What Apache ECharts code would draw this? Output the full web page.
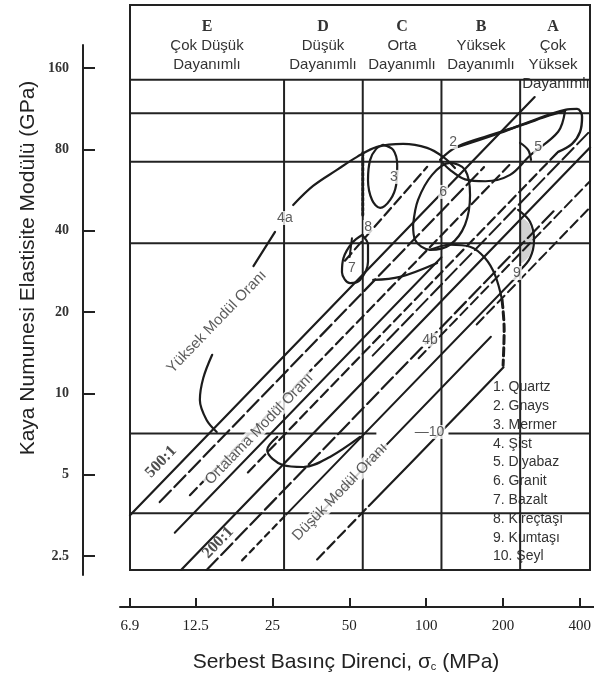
<!DOCTYPE html>
<html><head><meta charset="utf-8">
<script src="https://cdn.jsdelivr.net/npm/echarts@6/dist/echarts.min.js"></script>
<style>html,body{margin:0;padding:0;background:#fff}#c{width:594px;height:682px}</style>
</head><body><div id="c"></div>
<script>
// ---- data (σc in MPa, E in GPa) ----
const strengthBounds = [27.5, 55, 110, 220];
const modulusGrid = [3.6, 36, 72, 109, 145];
const modulusGridSplit = [[7.08, 62, 7.1], [117, 407, 7.1]];
const modulusTicks = [2.5, 5, 10, 20, 40, 80, 160];
const strengthTicks = [6.9, 12.5, 25, 50, 100, 200, 400];
const classLetters = ['E', 'D', 'C', 'B', 'A'];
const classNames = [['Çok Düşük', 'Dayanımlı'], ['Düşük', 'Dayanımlı'], ['Orta', 'Dayanımlı'], ['Yüksek', 'Dayanımlı'], ['Çok', 'Yüksek', 'Dayanımlı']];
const rockNames = ['1. Quartz', '2. Gnays', '3. Mermer', '4. Şist', '5. Diyabaz', '6. Granit', '7. Bazalt', '8. Kireçtaşı', '9. Kumtaşı', '10. Şeyl'];

// modulus-ratio lines and rock envelopes
const ratio500 = [[7.08, 3.54], [250, 125]];
const ratio430 = [[9.2, 3.96], [160, 68.8]];
const ratio350 = [[12, 4.2], [200, 70]];
const ratio290 = [[10.5, 3.05], [110, 31.9]];
const ratio255 = [[20, 5.1], [307.4, 78.4]];
const ratio230 = [[60, 13.8], [407, 93.6]];
const ratio200 = [[11.1, 2.22], [407, 81.4]];
const ratio160 = [[13.9, 2.22], [300, 48]];
const ratio150 = [[90, 13.5], [407, 61]];
const ratio127a = [[19, 2.41], [28, 3.56]];
const ratio127b = [[28, 3.56], [220, 27.9]];
const ratio120 = [[150, 18], [407, 48.8]];
const ratio95 = [[35, 3.33], [170, 16.2]];
const shale10a = [[36.8, 2.43], [58, 3.83]];
const shale10b = [[58, 3.83], [108, 7.1], [190, 12.5]];
const limestone8 = [[47, 31], [97, 69]];
const limestone8b = [[50, 37.5], [49, 32]];
const limestone8v = [[55, 77.7], [55, 45.8]];
const marble3 = [[65.8, 83.2], [71.9, 79.7], [74.5, 70.1], [73.8, 59.1], [70.0, 52.0], [64.1, 48.6], [59.7, 52.0], [57.6, 61.7], [58.7, 73.2], [61.9, 80.4], [65.8, 83.2]];
const basalt7 = [[54.7, 38.6], [57.6, 35.5], [57.6, 30.7], [53.7, 26.3], [49.2, 25.6], [45.8, 28.1], [46.4, 31.7], [50.1, 36.1], [54.7, 38.6]];
const basalt7tail = [[60.3, 26.3], [76.4, 27.0], [105.9, 30.4]];
const schist4aHook = [[15.2, 7.2], [13.9, 7.97], [13.1, 9.45], [13.5, 11.4], [14.6, 13.9]];
const schist4aMid = [[21.0, 29.6], [25.4, 39.6]];
const schist4aArc = [[29.8, 49.8], [35.5, 58.6], [43.8, 67.2], [52.3, 75.1], [62.4, 81.8], [78.5, 83.9], [96.9, 81.1], [111.6, 75.1], [123.9, 68.3]];
const schist4bArc = [[99.5, 34.0], [118.6, 35.5], [141.5, 34.9], [161.4, 31.7], [176.4, 27.4], [187.6, 22.2]];
const schist4bTail = [[187.6, 22.2], [191.1, 17.2], [189.3, 12.7]];
const sandstone9 = [[216, 47.8], [240, 43.2], [248.6, 37.0], [240, 31.7], [219.8, 28.6]];
const sandstoneShade = [[221, 44.5], [238, 42.5], [246, 37.0], [238, 32.2], [221, 30.5]];
const granite6 = [[85.7, 42.1], [89.5, 52.0], [101.3, 64.4], [118.6, 71.3], [135.4, 67.2], [141.5, 54.2], [135.4, 42.1], [118.6, 35.5], [99.5, 34.0], [87.2, 37.0], [85.7, 42.1]];
const gneiss2 = [[108.7, 73.2], [123.9, 81.1], [154.5, 88.0], [219.8, 98.0], [286.3, 107], [326.7, 111], [307.4, 93], [240, 76], [201.3, 64.4], [162, 61.0], [135.4, 62.0], [118.6, 67.2], [108.7, 73.2]];
const quartz1 = [[123.9, 81.1], [184.3, 92.1], [262.1, 104.8], [326.7, 112], [363.3, 113], [379.5, 105.7], [372.8, 92.9], [347.5, 83.9], [307.4, 78.4]];
const diabase5 = [[219.8, 84.6], [235.9, 79.7], [242.1, 73.2]];
const smallArc = [[25.9, 6.9], [23.7, 6.17], [27.2, 5.43], [32.6, 5.34], [41.2, 5.82], [53.7, 6.9]];

const rockLabels = [['4a', 27.7, 44.6], ['8', 57.7, 41.3], ['3', 72.3, 63.3], ['2', 121.8, 85.2], ['5', 257.8, 81.8], ['6', 111.6, 55.7], ['7', 50, 29.1], ['9', 214, 27.9], ['4b', 99.5, 15.8], ['—10', 99, 7.2]];
const zoneLabels = [['Yüksek Modül Oranı', 15.2, 18.4], ['Ortalama Modül Oranı', 22.1, 7.38], ['Düşük Modül Oranı', 45.0, 4.32]];
const ratioLabels = [['500:1', 9.31, 5.58], ['200:1', 15.4, 2.80]];

// ---- styles ----
const INK = '#1c1c1c';
const SOLID = 'solid', DASH = [10, 5], LDASH = [16, 5], SDASH = [6, 5];
const strokes = [
  [ratio500, SOLID, 2.2], [ratio430, LDASH, 2.2], [ratio350, DASH, 2.2], [ratio290, SOLID, 2],
  [ratio255, DASH, 2.2], [ratio230, LDASH, 2], [ratio200, SOLID, 2.2], [ratio160, LDASH, 2.2],
  [ratio150, DASH, 2], [ratio127a, SDASH, 2.2], [ratio127b, SOLID, 2], [ratio120, DASH, 2],
  [ratio95, SOLID, 2], [shale10a, DASH, 2.2], [shale10b, SOLID, 2.2],
  [limestone8, DASH, 2.2], [limestone8b, SOLID, 2], [limestone8v, [3, 2], 3],
  [marble3, SOLID, 2.2], [basalt7, SOLID, 2.2], [basalt7tail, SOLID, 2.2],
  [schist4aHook, SOLID, 2.2], [schist4aMid, SOLID, 2.2], [schist4aArc, SOLID, 2.2],
  [schist4bArc, SOLID, 2.2], [schist4bTail, [8, 4], 3],
  [sandstone9, SOLID, 2.2], [granite6, SOLID, 2.2], [gneiss2, SOLID, 2.2], [quartz1, SOLID, 2.4],
  [diabase5, SOLID, 2.2], [smallArc, SOLID, 2.2]
];

const series = [];
strengthBounds.forEach(s => series.push({ type: 'line', data: [[s, 2.22], [s, 145]], lineStyle: { color: '#222', width: 2 } }));
modulusGrid.forEach(m => series.push({ type: 'line', data: [[7.08, m], [407, m]], lineStyle: { color: '#222', width: 2 } }));
modulusGridSplit.forEach(([a, b, m]) => series.push({ type: 'line', data: [[a, m], [b, m]], lineStyle: { color: '#222', width: 2 } }));
strokes.forEach(([pts, type, w]) => series.push({ type: 'line', data: pts, smooth: pts.length > 2 ? 0.35 : false, lineStyle: { color: INK, width: w, type: type, cap: 'round' } }));
series.forEach(s => { s.showSymbol = false; s.symbol = 'none'; s.silent = true; s.xAxisIndex = 0; s.yAxisIndex = 0; s.z = 3; });

series.push({
  type: 'custom', xAxisIndex: 0, yAxisIndex: 0, silent: true, z: 2,
  data: [0],
  renderItem: (params, api) => ({
    type: 'polygon',
    shape: { points: sandstoneShade.map(p => api.coord(p)), smooth: 0.3 },
    style: { fill: '#c4c4c4', opacity: 0.75 }
  })
});
series.push({
  type: 'scatter', xAxisIndex: 0, yAxisIndex: 0, symbolSize: 0, silent: true, z: 5,
  data: rockLabels.map(r => ({ name: r[0], value: [r[1], r[2]] })),
  label: { show: true, position: 'inside', formatter: '{b}', fontFamily: 'Liberation Sans', fontSize: 14, color: '#333', backgroundColor: '#fff', padding: [0, 1] }
});
series.push({
  type: 'scatter', xAxisIndex: 0, yAxisIndex: 0, symbolSize: 0, silent: true, z: 5,
  data: zoneLabels.map(r => ({ name: r[0], value: [r[1], r[2]] })),
  label: { show: true, position: 'inside', rotate: 46, formatter: '{b}', fontFamily: 'Liberation Sans', fontSize: 15, color: '#333', backgroundColor: '#fff', padding: [0, 2] }
});
series.push({
  type: 'scatter', xAxisIndex: 0, yAxisIndex: 0, symbolSize: 0, silent: true, z: 5,
  data: ratioLabels.map(r => ({ name: r[0], value: [r[1], r[2]] })),
  label: { show: true, position: 'inside', rotate: 46, formatter: '{b}', fontFamily: 'Liberation Serif', fontWeight: 'bold', fontSize: 16, color: '#222' }
});

// header / legend / titles
const colCenters = [207, 323, 402, 481, 553];
const graphic = [];
classLetters.forEach((l, i) => {
  graphic.push({ type: 'text', x: colCenters[i], y: 27, style: { text: l, font: 'bold 16px "Liberation Serif"', fill: '#333', align: 'center', verticalAlign: 'middle' } });
  classNames[i].forEach((t, j) => {
    graphic.push({ type: 'text', x: colCenters[i] + (j === 2 ? 3 : 0), y: 46 + j * 19, style: { text: t, font: '15px "Liberation Sans"', fill: '#333', align: 'center', verticalAlign: 'middle' } });
  });
});
graphic.push({ type: 'text', left: 493, top: 378, style: { text: rockNames.join('\n'), font: '14px "Liberation Sans"', lineHeight: 18.8, fill: '#333' } });
graphic.push({ type: 'text', x: 346, y: 662, style: { text: '{t|Serbest Basınç Direnci, σ}{c|c}{t| (MPa)}', align: 'center', verticalAlign: 'middle', rich: { t: { fontFamily: 'Liberation Sans', fontSize: 21, fill: '#222' }, c: { fontFamily: 'Liberation Sans', fontSize: 11, fill: '#222', padding: [9, 0, 0, 0] } } } });
graphic.push({ type: 'text', x: 28, y: 268, rotation: Math.PI / 2, style: { text: 'Kaya Numunesi Elastisite Modülü (GPa)', font: '21px "Liberation Sans"', fill: '#222', align: 'center', verticalAlign: 'middle' } });

const option = {
  animation: false,
  backgroundColor: '#fff',
  grid: [
    { left: 130, top: 5, width: 460, height: 565, show: true, borderColor: '#222', borderWidth: 2, backgroundColor: 'transparent' },
    { left: 83, top: 45, width: 2, height: 530 },
    { left: 120, top: 596, width: 474, height: 11 }
  ],
  xAxis: [
    { gridIndex: 0, type: 'log', logBase: 2, min: 7.08, max: 407, show: false },
    { gridIndex: 1, type: 'value', min: 0, max: 1, show: false },
    {
      gridIndex: 2, type: 'log', logBase: 2, min: 6.31, max: 454.7, position: 'bottom',
      axisLine: { show: true, lineStyle: { color: '#222', width: 2 } },
      axisTick: { show: true, inside: true, length: 9, customValues: strengthTicks, lineStyle: { color: '#222', width: 2 } },
      axisLabel: { show: true, customValues: strengthTicks, margin: 12, fontFamily: 'Liberation Serif', fontSize: 15, color: '#222', formatter: v => String(Math.round(v * 10) / 10) },
      splitLine: { show: false }, minorTick: { show: false }
    }
  ],
  yAxis: [
    { gridIndex: 0, type: 'log', logBase: 2, min: 2.22, max: 274, show: false },
    {
      gridIndex: 1, type: 'log', logBase: 2, min: 2.13, max: 195, position: 'left',
      axisLine: { show: true, lineStyle: { color: '#222', width: 2 } },
      axisTick: { show: true, inside: true, length: 12, customValues: modulusTicks, lineStyle: { color: '#222', width: 2 } },
      axisLabel: { show: true, customValues: modulusTicks, margin: 14, fontFamily: 'Liberation Serif', fontWeight: 'bold', fontSize: 14, color: '#333', formatter: v => String(Math.round(v * 10) / 10) },
      splitLine: { show: false }, minorTick: { show: false }
    },
    { gridIndex: 2, type: 'value', show: false }
  ],
  graphic: graphic,
  series: series
};
const chart = echarts.init(document.getElementById('c'), null, { renderer: 'canvas' });
chart.setOption(option);
</script></body></html>
